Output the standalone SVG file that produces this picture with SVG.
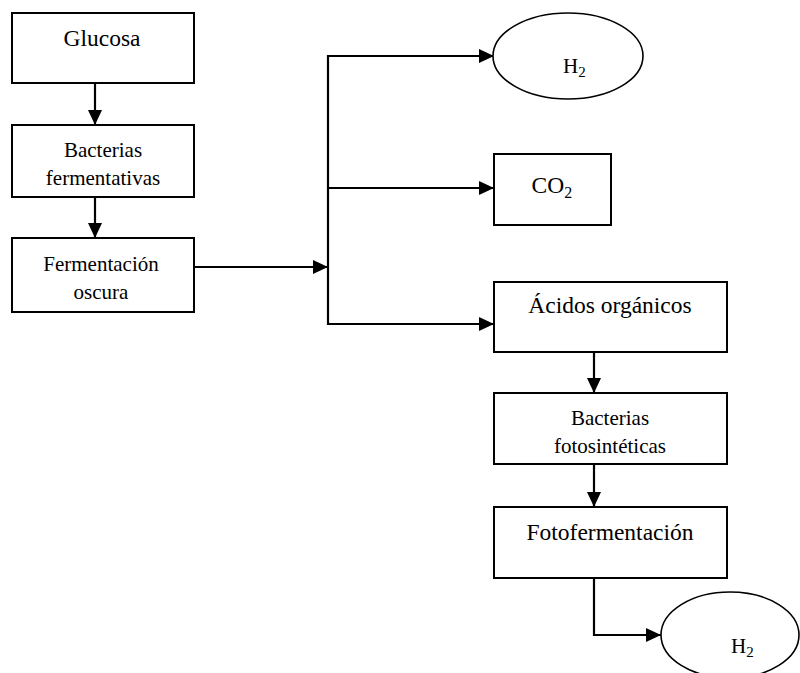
<svg xmlns="http://www.w3.org/2000/svg" width="800" height="673" viewBox="0 0 800 673" font-family="'Liberation Serif', 'Times New Roman', 'DejaVu Serif', serif">
<style>
.box{fill:#fff;stroke:#000;stroke-width:2}
.ell{fill:#fff;stroke:#000;stroke-width:1.6}
.ln{fill:none;stroke:#000;stroke-width:2.2}
text{font-family:'Liberation Serif','Times New Roman','DejaVu Serif',serif;fill:#000}
.big{font-size:23.5px}
.sm{font-size:21px}
.c{text-anchor:middle}
</style>
<defs>
<marker id="ah" markerWidth="15" markerHeight="14" refX="15" refY="7" orient="auto" markerUnits="userSpaceOnUse">
<path d="M0,0 L15,7 L0,14 Z" fill="#000"/>
</marker>
</defs>
<rect width="800" height="673" fill="#fff"/>
<g id="connectors">
<line class="ln" x1="95" y1="83" x2="95" y2="125" marker-end="url(#ah)"/>
<line class="ln" x1="95" y1="197" x2="95" y2="238" marker-end="url(#ah)"/>
<line class="ln" x1="194" y1="267" x2="328" y2="267" marker-end="url(#ah)"/>
<line class="ln" x1="328" y1="55" x2="328" y2="325"/>
<line class="ln" x1="327" y1="56" x2="494" y2="56" marker-end="url(#ah)"/>
<line class="ln" x1="327" y1="188" x2="494" y2="188" marker-end="url(#ah)"/>
<line class="ln" x1="327" y1="324" x2="494" y2="324" marker-end="url(#ah)"/>
<line class="ln" x1="594" y1="352" x2="594" y2="393" marker-end="url(#ah)"/>
<line class="ln" x1="594" y1="464" x2="594" y2="507" marker-end="url(#ah)"/>
<polyline class="ln" points="594,578 594,635 661,635" marker-end="url(#ah)"/>
</g>
<g id="glucosa">
<rect class="box" x="12" y="13" width="182" height="70"/>
<text class="big c" x="102" y="46">Glucosa</text>
</g>
<g id="bacterias-fermentativas">
<rect class="box" x="12" y="125" width="182" height="72"/>
<text class="sm c" x="103" y="157">Bacterias</text>
<text class="sm c" x="103" y="185">fermentativas</text>
</g>
<g id="fermentacion-oscura">
<rect class="box" x="12" y="238" width="182" height="74"/>
<text class="sm c" x="101" y="271">Fermentación</text>
<text class="sm c" x="101" y="299">oscura</text>
</g>
<g id="h2-top">
<ellipse class="ell" cx="568" cy="56" rx="75" ry="43"/>
<text class="sm" x="563" y="73">H<tspan font-size="15" dy="4">2</tspan></text>
</g>
<g id="co2">
<rect class="box" x="494" y="154" width="117" height="71"/>
<text class="big" x="531.5" y="193">CO<tspan font-size="16" dy="5">2</tspan></text>
</g>
<g id="acidos-organicos">
<rect class="box" x="494" y="282" width="233" height="70"/>
<text class="big c" x="610" y="313">Ácidos orgánicos</text>
</g>
<g id="bacterias-fotosinteticas">
<rect class="box" x="494" y="393" width="233" height="71"/>
<text class="sm c" x="610" y="425">Bacterias</text>
<text class="sm c" x="610" y="453">fotosintéticas</text>
</g>
<g id="fotofermentacion">
<rect class="box" x="494" y="507" width="233" height="71"/>
<text class="big c" x="610" y="540">Fotofermentación</text>
</g>
<g id="h2-bottom">
<ellipse class="ell" cx="730" cy="635" rx="69" ry="43"/>
<text class="sm" x="731" y="653">H<tspan font-size="15" dy="4">2</tspan></text>
</g>
</svg>
